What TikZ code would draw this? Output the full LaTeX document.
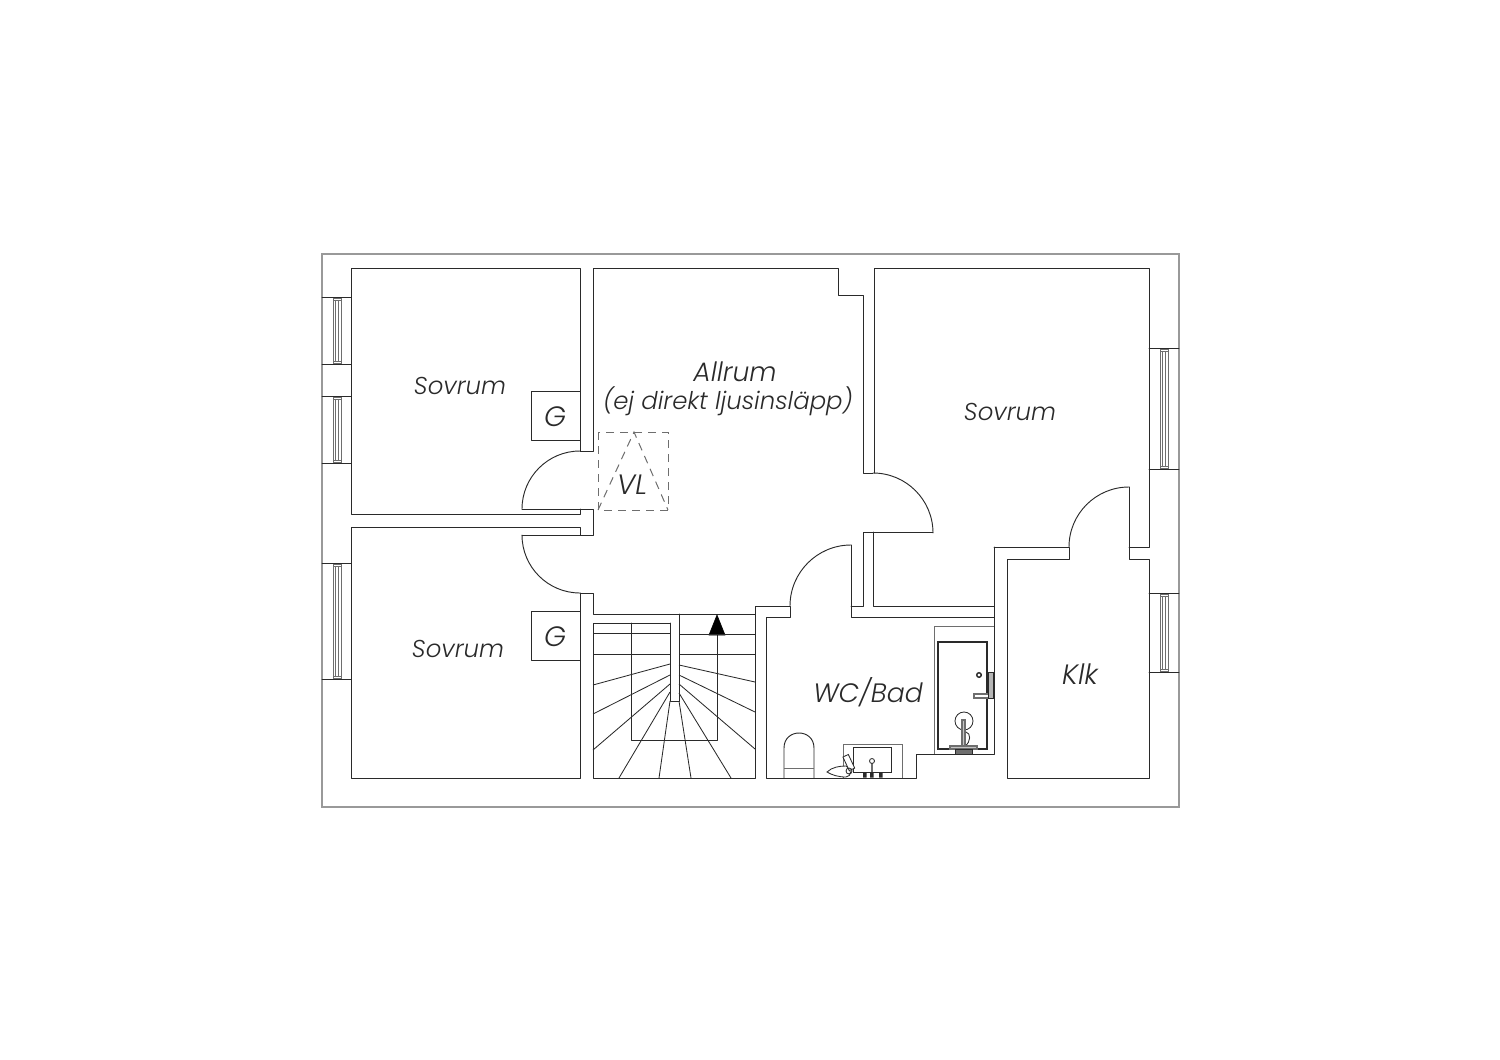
\documentclass[tikz,border=0pt]{standalone}
\usepackage{fontspec}
\setmainfont{Poppins Light Italic}
\usetikzlibrary{arrows.meta}
\definecolor{ink}{HTML}{2A2A2A}
\definecolor{soft}{HTML}{6E6E6E}
\tikzset{
  wall/.style={draw=ink,line width=0.47pt,line cap=round,line join=round},
  thin wall/.style={draw=ink,line width=0.42pt,line cap=round,line join=round},
  outline/.style={draw=soft!70,line width=0.55pt},
  glass/.style={draw=soft,line width=0.42pt},
  dashline/.style={draw=soft,line width=0.5pt,dash pattern=on 4pt off 3pt},
  tread/.style={draw=ink,line width=0.42pt},
  room label/.style={text=ink,font=\fontsize{12.2}{14}\selectfont,inner sep=0pt,align=center},
  large label/.style={room label,font=\fontsize{14}{16}\selectfont},
  wide label/.style={room label,font=\fontsize{13.3}{16}\selectfont},
  fixture/.style={draw=ink,line width=0.42pt},
  heavy fixture/.style={draw=ink,line width=0.7pt},
  gray fitting/.style={draw=soft,line width=0.55pt,fill=soft!40}
}
\newcommand{\winH}[2]{%
  \draw[thin wall] (322,#1) -- (351,#1) (322,#2) -- (351,#2);
  \draw[glass] (333,#1+1) rectangle (341,#2-1);
  \draw[glass] (335.3,#1+3) rectangle (338.7,#2-3);
  \draw[glass] (333,#1+3) -- (341,#1+3) (333,#2-3) -- (341,#2-3);}
\newcommand{\winR}[2]{%
  \draw[thin wall] (1149,#1) -- (1179,#1) (1149,#2) -- (1179,#2);
  \draw[glass] (1160,#1+1) rectangle (1168,#2-1);
  \draw[glass] (1162.3,#1+3) rectangle (1165.7,#2-3);
  \draw[glass] (1160,#1+3) -- (1168,#1+3) (1160,#2-3) -- (1168,#2-3);}
\begin{document}
\begin{tikzpicture}[x=0.5pt,y=-0.5pt]
\useasboundingbox (0,0) rectangle (1500,1060);
% outer outline
\draw[outline] (322,254) rectangle (1179,807);
% windows
\winH{297}{364}
\winH{396}{463}
\winH{563}{679}
\winR{348}{469}
\winR{593}{672}
% top-left bedroom
\draw[wall] (580,451) -- (580,268) -- (351,268) -- (351,514) -- (580,514) -- (580,509);
% door + T-wall
\draw[wall] (580,451) arc[start angle=-90,end angle=-180,radius=58];
\draw[wall] (522,509) -- (593,509) -- (593,535) -- (522,535);
\draw[wall] (580,451) -- (593,451) -- (593,268) -- (838,268) -- (838,295) -- (863,295) -- (863,473) -- (873,473);
\draw[wall] (580,535) -- (580,527) -- (351,527) -- (351,778) -- (580,778) -- (580,593);
\draw[wall] (522,535) arc[start angle=180,end angle=90,radius=58];
\draw[wall] (580,593) -- (593,593) -- (593,614) -- (755,614) -- (755,606) -- (790,606) -- (790,617) -- (766,617) -- (766,778) -- (916,778) -- (916,754) -- (994,754) -- (994,547);
% door to WC
\draw[wall] (790,606) arc[start angle=180,end angle=270,radius=61];
\draw[wall] (851,545) -- (851,617) -- (994,617);
\draw[wall] (851,606) -- (863,606) -- (863,532) -- (933,532);
% door to right bedroom
\draw[wall] (873,473) arc[start angle=-90,end angle=0,radius=60];
% right bedroom
\draw[wall] (874,473) -- (874,268) -- (1149,268) -- (1149,547) -- (1129,547);
\draw[wall] (873,532) -- (873,606) -- (994,606);
\draw[wall] (994,547) -- (1069,547) -- (1069,559) -- (1007,559) -- (1007,778) -- (1149,778) -- (1149,559) -- (1129,559) -- (1129,487);
\draw[wall] (1069,547) arc[start angle=180,end angle=270,radius=60];
% wardrobes
\draw[wall] (580,391) -- (531,391) -- (531,440) -- (580,440);
\draw[wall] (580,611) -- (531,611) -- (531,660) -- (580,660);
% void
\draw[dashline] (598,432) rectangle (668,510);
\draw[dashline] (598,510) -- (634,432) -- (668,510);
% stairs
\draw[wall] (670,623) -- (593,623) -- (593,778) -- (755,778) -- (755,614);
\draw[wall] (670,623) -- (670,701) -- (679,701) -- (679,614);
\draw[wall] (631,623) -- (631,740) -- (717,740) -- (717,625);
\draw[fill=black,draw=black,line width=0.3pt] (717,615) -- (725,635) -- (709,635) -- cycle;
\draw[tread] (593,633) -- (670,633) (679,634) -- (755,634) (593,654) -- (670,654) (679,654) -- (755,654);
\draw[tread] (670,664) -- (593,685) (670,675) -- (593,714) (670,684) -- (593,750) (670,692) -- (619,778) (670,701) -- (659,778);
\draw[tread] (679,665) -- (755,682) (679,675) -- (755,712) (679,684) -- (755,749) (679,693) -- (731,778) (679,701) -- (691,778);
% shower
\draw[glass] (994,626) -- (934,626) -- (934,754);
\draw[heavy fixture] (938,642) rectangle (987,749);
\draw[gray fitting,fill=white] (974,694) rectangle (991,698);
\draw[fixture,line width=0.7pt] (979,675) circle[radius=2.3];
\draw[fixture,fill=soft!50] (988,672) rectangle (993,698);
\draw[fixture] (964,721) circle[radius=9];
\draw[gray fitting] (962,720) rectangle (965,750);
\draw[fixture] (966,732) .. controls (971,733) and (971,742) .. (965,746);
\draw[gray fitting] (950,746) rectangle (977,749);
\draw[fixture,fill=soft] (955,749) rectangle (972,754);
% toilet
\draw[wall] (784,778) -- (784,748) .. controls (784,728) and (814,728) .. (814,748) -- (814,778);
\draw[glass] (784,768) -- (814,768);
% basin
\draw[glass] (843,778) -- (843,744) -- (902,744) -- (902,778);
\draw[fixture,fill=white] (853,747) rectangle (891,772);
\draw[fixture] (872,761) circle[radius=2.5];
\draw[draw=soft,line width=0.8pt] (872,764) -- (872,772);
\draw[fill=ink,draw=none] (863,773) rectangle (866.5,777.5) (870,773) rectangle (873.5,777.5) (879,773) rectangle (882.5,777.5);
% brush on basin
\draw[fixture,fill=white] (827,772) .. controls (832,767) and (840,766) .. (846,766) .. controls (852,770) and (852,776) .. (846,777) .. controls (838,777) and (832,775) .. (827,772) -- cycle;
\draw[fixture,fill=white,rotate around={25:(849,763)}] (846,755) rectangle (852,770);
\draw[fixture] (849,771) circle[radius=3];
% labels
\node[room label] (s1) at (460,386) {Sovrum};
\node[room label] (s2) at (458,649) {Sovrum};
\node[room label] (s3) at (1010,412) {Sovrum};
\node[large label] (g1) at (555,417) {G};
\node[large label] (g2) at (555,637) {G};
\node[wide label] (a1) at (735,372) {Allrum};
\node[room label] (a2) at (728,401) {(ej direkt ljusinsläpp)};
\node[large label] (vl) at (632,485) {VL};
\node[wide label] (wc) at (868,692) {WC/Bad};
\node[large label] (kl) at (1080,674) {Klk};
\end{tikzpicture}
\end{document}
